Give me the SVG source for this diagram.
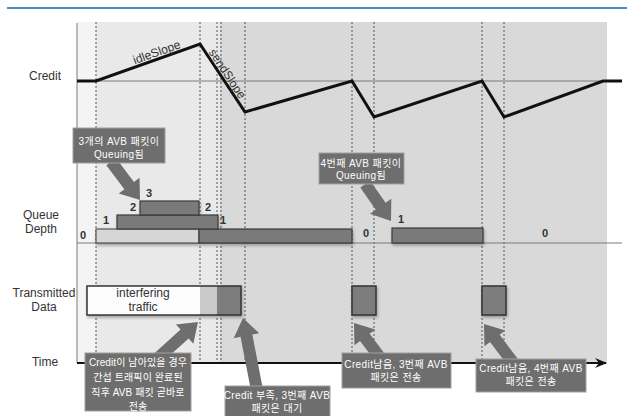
<svg xmlns="http://www.w3.org/2000/svg" width="630" height="416" viewBox="0 0 630 416">
<style>
.lbl{font-family:"Liberation Sans","Noto Sans CJK KR",sans-serif;font-size:12px;fill:#333;text-anchor:middle}
.num{font-family:"Liberation Sans",sans-serif;font-size:11px;fill:#333;text-anchor:middle;font-weight:bold}
.ct{font-family:"Liberation Sans","Noto Sans CJK KR",sans-serif;font-size:10px;fill:#fff;text-anchor:middle;letter-spacing:0.4px}
.cta{font-family:"Liberation Sans","Noto Sans CJK KR",sans-serif;font-size:10px;fill:#fff;text-anchor:middle;letter-spacing:0.1px}
.box{fill:#6e6e6e;stroke:#a0a0a0;stroke-width:1}
.arr{fill:#6e6e6e}
.dot{stroke:#555;stroke-width:1;stroke-dasharray:2,2;fill:none}
.thin{stroke:#7a7a7a;stroke-width:1;fill:none}
.dk{fill:#7a7a7a;stroke:#3a3a3a;stroke-width:1.2}
.lt{fill:#d6d6d6;stroke:#555;stroke-width:1.2}
</style>
<defs>
<marker id="ah" viewBox="0 0 12 10" refX="11" refY="5" markerWidth="12" markerHeight="10" markerUnits="userSpaceOnUse" orient="auto">
<path d="M0,0 L12,5 L0,10 L4,5 Z" fill="#111"/>
</marker>
<filter id="sh" x="-10%" y="-10%" width="130%" height="140%">
<feDropShadow dx="1" dy="2" stdDeviation="1.5" flood-color="#000" flood-opacity="0.3"/>
</filter>
</defs>
<rect width="630" height="416" fill="#fff"/>
<line x1="7" y1="8" x2="627" y2="8" stroke="#4a8dc2" stroke-width="2"/>
<g id="background">
<rect x="77" y="22" width="19" height="341" fill="#f4f4f4"/>
<rect x="96" y="22" width="124" height="341" fill="#e9e9e9"/>
<rect x="220" y="22" width="387" height="341" fill="#d9d9d9"/>
</g>
<g id="grid">
<line class="dot" x1="96" y1="22" x2="96" y2="363"/>
<line class="dot" x1="200" y1="22" x2="200" y2="363"/>
<line class="dot" x1="217" y1="22" x2="217" y2="363"/>
<line class="dot" x1="221" y1="22" x2="221" y2="363"/>
<line class="dot" x1="245" y1="22" x2="245" y2="363"/>
<line class="dot" x1="352" y1="22" x2="352" y2="363"/>
<line class="dot" x1="374" y1="22" x2="374" y2="363"/>
<line class="dot" x1="482" y1="22" x2="482" y2="363"/>
<line class="dot" x1="504" y1="22" x2="504" y2="363"/>
<line class="thin" x1="77" y1="23" x2="77" y2="363"/>
<line class="thin" x1="77" y1="81" x2="622" y2="81"/>
<line class="thin" x1="77" y1="243" x2="622" y2="243"/>
</g>
<g id="axis-labels">
<text class="lbl" x="45" y="80">Credit</text>
<text class="lbl" x="41" y="219">Queue</text>
<text class="lbl" x="41" y="233">Depth</text>
<text class="lbl" x="44" y="297">Transmitted</text>
<text class="lbl" x="44" y="311">Data</text>
<text class="lbl" x="45" y="366">Time</text>
</g>
<g id="credit-curve">
<polyline points="77,81 96,81 200,44 245,112 352,81 374,117 482,81 504,117 603,81 622,81" fill="none" stroke="#111" stroke-width="3" stroke-linejoin="miter"/>
<text class="lbl" x="158" y="56" transform="rotate(-19.6 158 56)">idleSlope</text>
<text class="lbl" x="224" y="76" transform="rotate(56.5 224 76)">sendSlope</text>
</g>
<g id="queue-depth" filter="url(#sh)">
<rect class="lt" x="96" y="229" width="103" height="14"/>
<rect class="dk" x="199" y="229" width="153" height="14"/>
<rect class="dk" x="117" y="215" width="101" height="14"/>
<rect class="dk" x="140" y="201" width="59" height="14"/>
<rect class="dk" x="392" y="228" width="91" height="15"/>
</g>
<g id="queue-labels">
<text class="num" x="83" y="239">0</text>
<text class="num" x="106" y="224">1</text>
<text class="num" x="133" y="211">2</text>
<text class="num" x="149" y="197">3</text>
<text class="num" x="208" y="211">2</text>
<text class="num" x="223" y="224">1</text>
<text class="num" x="366" y="237">0</text>
<text class="num" x="401" y="223">1</text>
<text class="num" x="545" y="237">0</text>
</g>
<g id="transmitted-data" filter="url(#sh)">
<rect x="87" y="286" width="113" height="29" fill="#fdfdfd"/>
<rect x="200" y="286" width="17" height="29" fill="#c9c9c9"/>
<rect x="217" y="286" width="24" height="29" fill="#7d7d7d"/>
<rect x="87" y="286" width="154" height="29" fill="none" stroke="#333" stroke-width="1.5"/>
<rect x="352" y="286" width="24" height="29" fill="#7d7d7d" stroke="#333" stroke-width="1.5"/>
<rect x="482" y="286" width="24" height="29" fill="#7d7d7d" stroke="#333" stroke-width="1.5"/>
</g>
<text class="lbl" x="143" y="297">interfering</text>
<text class="lbl" x="143" y="311">traffic</text>
<g id="time-axis">
<line x1="77" y1="363" x2="606" y2="363" stroke="#111" stroke-width="2" marker-end="url(#ah)"/>
</g>
<g id="connectors">
<polygon class="arr" transform="translate(140,200) rotate(53)" points="0,0 -18,-13 -18,-6 -48,-6 -48,6 -18,6 -18,13"/>
<polygon class="arr" transform="translate(391,221) rotate(55)" points="0,0 -18,-13 -18,-6 -45,-6 -45,6 -18,6 -18,13"/>
<polygon class="arr" transform="translate(198,322) rotate(-42)" points="0,0 -18,-13 -18,-6 -60,-6 -60,6 -18,6 -18,13"/>
<polygon class="arr" transform="translate(243,318) rotate(-101)" points="0,0 -18,-13 -18,-6 -80,-6 -80,6 -18,6 -18,13"/>
<polygon class="arr" transform="translate(354,323) rotate(-127)" points="0,0 -18,-13 -18,-6 -50,-6 -50,6 -18,6 -18,13"/>
<polygon class="arr" transform="translate(484,324) rotate(-127)" points="0,0 -18,-13 -18,-6 -50,-6 -50,6 -18,6 -18,13"/>
</g>
<g id="callout-queued3">
<rect class="box" x="73" y="128" width="92" height="35"/>
<text class="ct" x="119" y="145">3개의 AVB 패킷이</text>
<text class="ct" x="119" y="158">Queuing됨</text>
</g>
<g id="callout-queued4">
<rect class="box" x="319" y="153" width="85" height="31"/>
<text class="ct" x="361" y="167">4번째 AVB 패킷이</text>
<text class="ct" x="361" y="179">Queuing됨</text>
</g>
<g id="callout-a">
<rect class="box" x="85" y="353" width="106" height="58"/>
<text class="cta" x="138" y="366">Credit이 남아있을 경우</text>
<text class="cta" x="138" y="381">간섭 트래픽이 완료된</text>
<text class="cta" x="138" y="396">직후 AVB 패킷 곧바로</text>
<text class="cta" x="138" y="410">전송</text>
</g>
<g id="callout-b">
<rect class="box" x="225" y="386" width="105" height="34"/>
<text class="ct" x="277" y="399">Credit 부족, 3번째 AVB</text>
<text class="ct" x="277" y="412">패킷은 대기</text>
</g>
<g id="callout-c">
<rect class="box" x="342" y="353" width="109" height="35"/>
<text class="ct" x="396" y="368">Credit남음, 3번째 AVB</text>
<text class="ct" x="396" y="381">패킷은 전송</text>
</g>
<g id="callout-d">
<rect class="box" x="476" y="359" width="110" height="33"/>
<text class="ct" x="531" y="372">Credit남음, 4번째 AVB</text>
<text class="ct" x="531" y="385">패킷은 전송</text>
</g>
</svg>
